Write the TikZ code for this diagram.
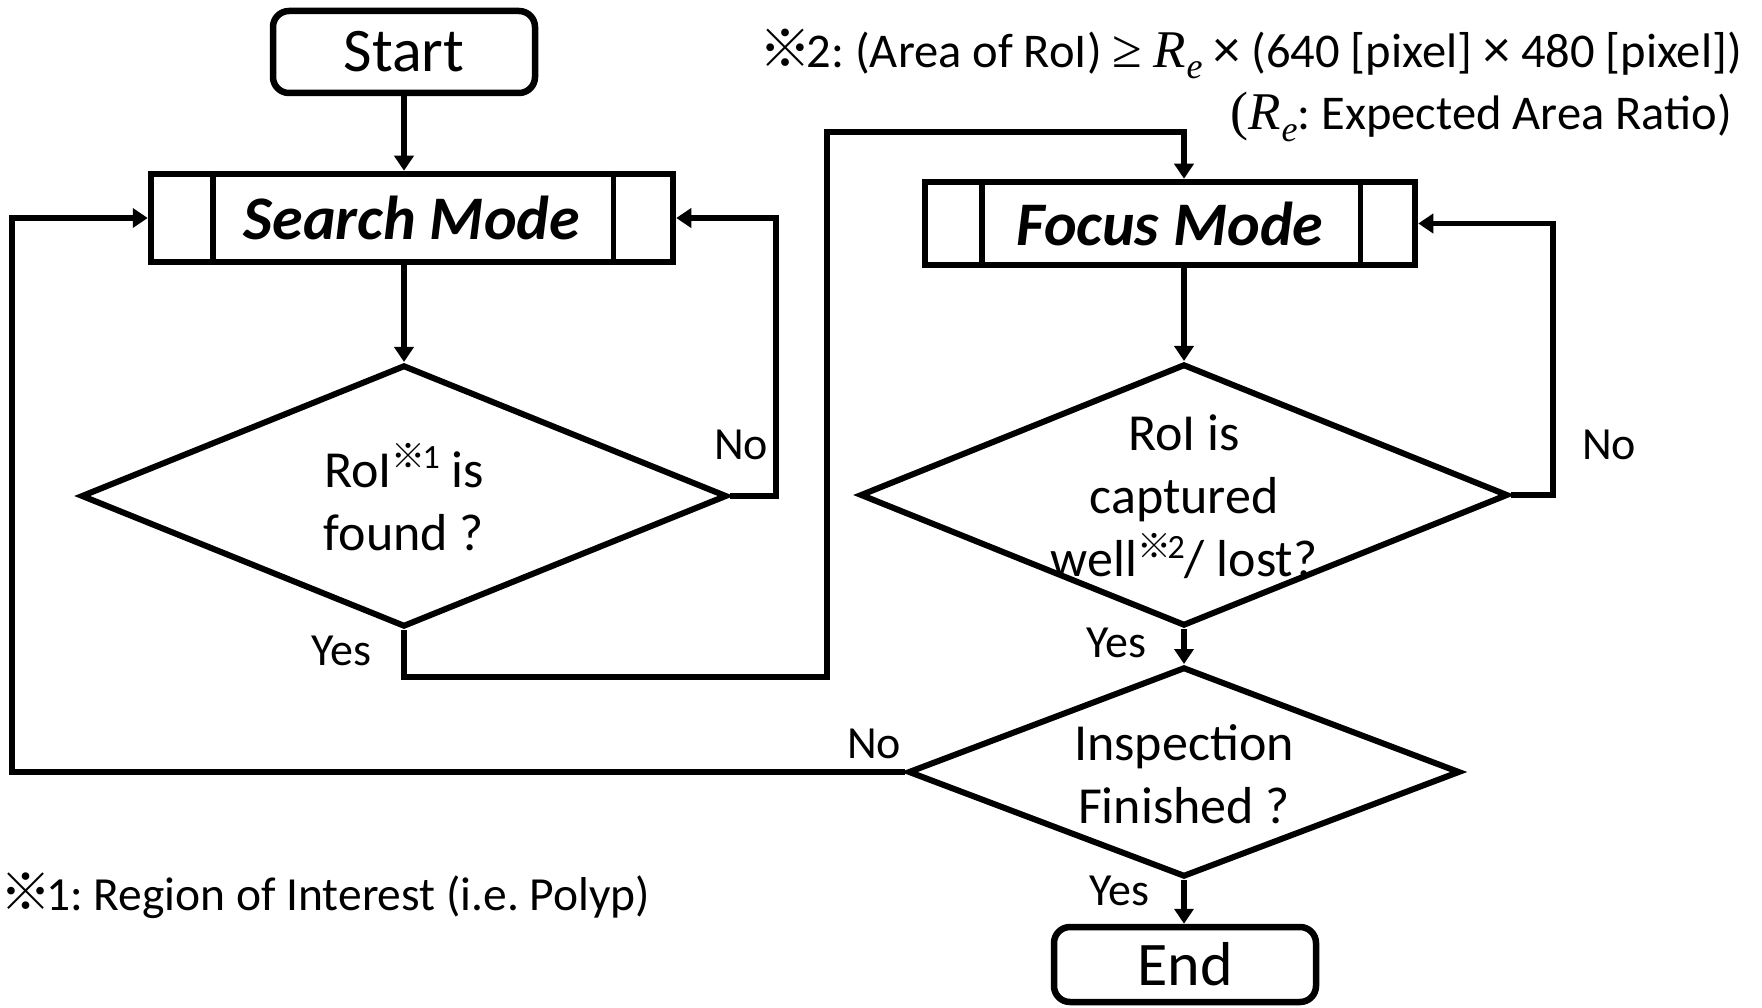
\documentclass[tikz,border=0pt]{standalone}
\usepackage{fontspec}
\setmainfont{Carlito}
\newfontfamily\cjk{Noto Sans CJK JP}
\newfontfamily\rvar{Liberation Serif}
\usetikzlibrary{arrows.meta,shapes.geometric}
\frenchspacing

% reference mark and its raised form used after a word
\newcommand\kome{{\cjk ※\kern-0.1em}}
\newcommand\supmark[1]{\raisebox{0.36em}{\fontsize{34}{34}\selectfont\kome#1}}
% expected area ratio symbol and a larger multiplication sign
\newcommand\Rexp{{\fontsize{53}{56}\selectfont\rvar\itshape R}\kern0.02em\raisebox{-0.24em}{\fontsize{36}{36}\selectfont\rvar\itshape e}}
\newcommand\bigtimes{{\fontsize{54}{56}\selectfont ×}}

\begin{document}
\begin{tikzpicture}[x=1pt,y=-1pt,
  box/.style={draw,line width=6.5pt,inner sep=0pt},
  term/.style={box,rounded corners=16pt,minimum width=262pt,minimum height=82pt,
    font=\fontsize{62}{74}\selectfont},
  mode/.style={box,font=\fontsize{62}{74}\selectfont\bfseries\itshape},
  decision/.style={draw,diamond,line width=6pt,inner sep=0pt},
  divider/.style={line width=5.5pt},
  qtext/.style={align=center,inner sep=0pt,font=\fontsize{52}{63}\selectfont},
  lbl/.style={inner sep=0pt,font=\fontsize{46}{56}\selectfont},
  note/.style={inner sep=0pt,font=\fontsize{48.5}{56}\selectfont},
  flow/.style={line width=5.5pt,-{Triangle[length=15pt,width=19pt]}}]

\useasboundingbox (0,0) rectangle (1762,1008);

% terminals and mode blocks
\node[term] (start) at (404,52) {Start};
\node[mode,minimum width=522pt,minimum height=88pt] (search) at (412,218) {Search Mode};
\node[mode,minimum width=490pt,minimum height=83pt] (focus) at (1170,223.5) {Focus Mode};
\node[term,minimum height=75pt] (end) at (1185,964.5) {End};

% side bars of the predefined-process boxes
\draw[divider] ([xshift=65pt]search.north west) -- ([xshift=65pt]search.south west);
\draw[divider] ([xshift=-63pt]search.north east) -- ([xshift=-63pt]search.south east);
\draw[divider] ([xshift=60pt]focus.north west) -- ([xshift=60pt]focus.south west);
\draw[divider] ([xshift=-58pt]focus.north east) -- ([xshift=-58pt]focus.south east);

% decisions
\node[decision,minimum width=646pt,minimum height=262pt] (qfound) at (404,496) {};
\node[decision,minimum width=648pt,minimum height=262pt] (qcap) at (1184,495) {};
\node[decision,minimum width=552pt,minimum height=210pt] (qdone) at (1184,772) {};

\node[qtext] (tfound) at (404,497) {RoI\supmark{1} is\\found ?};
\node[qtext] (tcap) at (1184,497) {RoI is\\captured\\well\supmark{2}/ lost?};
\node[qtext] (tdone) at (1184,774) {Inspection\\Finished ?};

% routing points of the loops
\coordinate (loopA) at (776,0);
\coordinate (loopB) at (1553,0);
\coordinate (loopC) at (12,0);
\coordinate (dropY) at (827,677);
\coordinate (topY) at (827,132);

% connectors
\draw[flow] (start.south) -- (start.south |- search.north);
\draw[flow] (qfound.north |- search.south) -- (qfound.north);
\draw[flow] (qfound.east) -- (qfound.east -| loopA) |- (search.east);
\draw[flow] (qfound.south) |- (dropY) -- (topY) -| (qcap.north |- focus.north);
\draw[flow] (qcap.north |- focus.south) -- (qcap.north);
\draw[flow] (qcap.east) -- (qcap.east -| loopB) |- (focus.east);
\draw[flow] (qcap.south) -- (qdone.north);
\draw[flow] (qdone.west) -- (qdone.west -| loopC) |- (search.west);
\draw[flow] (qdone.south) -- (qdone.south |- end.north);

% branch labels
\node[lbl] (lno1) at (741,445) {No};
\node[lbl] (lyes1) at (341,651) {Yes};
\node[lbl] (lno2) at (1609,445) {No};
\node[lbl] (lyes2) at (1116,643) {Yes};
\node[lbl] (lno3) at (874,744) {No};
\node[lbl] (lyes3) at (1119,891) {Yes};

% footnotes
\node[note,anchor=west,font=\fontsize{47.5}{56}\selectfont] (note1) at (0,896)
  {{\fontsize{51}{56}\selectfont\kome}1: Region of Interest (i.e. Polyp)};
\node[note,anchor=east] (note2a) at (1742,54)
  {{\fontsize{52}{56}\selectfont\kome}2: (Area of RoI) {\fontsize{54}{56}\selectfont\rvar ≥} \Rexp{} \bigtimes{} (640 [pixel] \bigtimes{} 480 [pixel])};
\node[note,anchor=east] (note2b) at (1732,117)
  {{\fontsize{54}{56}\selectfont\rvar(}\Rexp: Expected Area Ratio)};
\end{tikzpicture}
\end{document}
